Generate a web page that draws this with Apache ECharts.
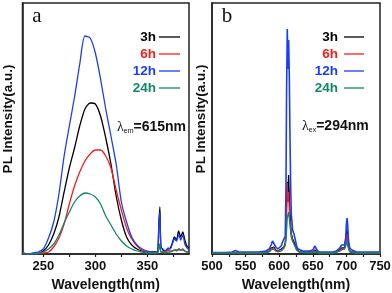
<!DOCTYPE html>
<html>
<head>
<meta charset="utf-8">
<script src="https://cdn.jsdelivr.net/npm/echarts@6/dist/echarts.min.js"></script>
<style>
html,body{margin:0;padding:0;background:#fff;}
#chart{width:392px;height:293px;}
</style>
</head>
<body>
<div id="chart"></div>
<script>
// ---------- data ----------
const legendNames = ['3h', '6h', '12h', '24h'];
const seriesColors = ['#000000', '#ff1a1a', '#1b3cff', '#11876a'];

// Panel a: excitation spectra (lambda_em = 615 nm)
const wlA = [230,235,240,245,250,255,260,265,270,275,280,285,290,295,300,305,310,315,320,325,330,335,340,345,350,355,358,360,361,362,363,365,367,370,372,374,376,378,380,381,382,384,386,388,390];
const a3h = [0,0,0,0.5,3,9,20,37,62,86,106,128,145,151,150,138,116,90,58,34,17,9,5,3,2,2,2,3,30,47,8,4,3,5,6,11,17,14,23,20,17,22,14,8,6];
const a6h = [2,0,0,0.5,1,2,7,16,30,50,68,82,93,100,104,104,98,86,64,44,26,15,8,4,2,1,1,2,6,8,2,2,2,4,3,3,4,4,5,4,4,5,3,2,2];
const a12h = [0,0,1,2,5,16,32,60,98,128,157,190,218,216,201,175,145,118,90,52,32,17,9,5,3,2,2,3,28,42,6,5,3,6,5,10,15,13,19,17,14,19,10,6,4];
const a24h = [0,0,0,0.5,2,5,10,19,31,42,52,58,61,60,57,50,38,29,20,13,8,5,3,2,1,1,1,1,6,10,2,2,1,2,2,3,4,3,4,5,4,4,3,2,2];
const ticksA = [250,275,300,325,350,375];
const labelsA = [250,300,350];

// Panel b: emission spectra (lambda_ex = 294 nm)
const wlB = [500,510,520,530,535,540,550,560,570,575,580,585,588,590,592,595,598,600,603,605,607,609,610,611,612,613,614,615,616,617,618,620,622,624,626,628,630,635,640,645,650,653,655,657,660,670,680,685,690,693,695,697,699,700,701,702,703,705,708,710,715,720,730,740,750];
const b3h = [1,1,1,1,1,1,1,1,1,1.5, 2,3,6,8,7,4,3,3,5,7, 7,11,22,50,72,62,79,58,42,30, 20,15,13,9,5,3,2,2,2,2, 2,4,3,2,1,1,1,2,4,6, 7,6,11,20,24,18,8,3,2,2, 1,1,1,1,1];
const b6h = [1,1,1,1,1,1,1,1,1,1.5, 2,3,5,7,6,3,3,3,4,6, 6,9,18,42,71,52,62,45,33,24, 17,13,11,7,4,3,2,2,2,2, 2,3,3,2,1,1,1,2,3,5, 6,5,9,17,20,15,7,3,2,2, 1,1,1,1,1];
const b12h = [1.5,1.5,1.5,2,3.5,2,2,2,2,2.5, 3,5,9,13,11,7,5,5,8,12, 11,18,60,165,225,185,214,180,120,70, 40,24,20,14,8,5,4,3,3,3, 4,8,7,3,2,2,2,3,6,9, 10,9,16,30,36,28,14,6,4,3, 2,2,2,2,2];
const b24h = [1,1,1,1,1,1,1,1,1,1, 1.5,2,4,5,5,3,2,2,3,5, 6,9,14,24,36,34,42,36,29,23, 18,13,10,7,4,3,2,1.5,1.5,1.5, 1.5,2,2,1.5,1,1,1,1.5,3,4, 5,5,8,13,15,12,6,2,1.5,1, 1,1,1,1,1];
const ticksB = [500,525,550,575,600,625,650,675,700,725,750];
const labelsB = [500,550,600,650,700,750];

// ---------- chart ----------
const chart = echarts.init(document.getElementById('chart'), null, {renderer: 'canvas'});
const pairs = (xs, ys) => xs.map((x, i) => [x, ys[i]]);
const FONT = '"Liberation Sans", Arial, sans-serif';

function xAxisFor(gridIndex, min, max, ticks, labels) {
  return {
    type: 'value', gridIndex, min, max,
    axisLine: {show: true, lineStyle: {color: '#222', width: 1.5}},
    axisTick: {show: true, inside: false, length: 3, customValues: ticks, lineStyle: {color: '#222', width: 1.2}},
    axisLabel: {show: true, customValues: labels, margin: 6, color: '#111', fontFamily: FONT, fontWeight: 'bold', fontSize: 13},
    splitLine: {show: false},
    name: 'Wavelength(nm)', nameLocation: 'middle', nameGap: 24,
    nameTextStyle: {color: '#111', fontFamily: FONT, fontWeight: 'bold', fontSize: 14}
  };
}
function yAxisFor(gridIndex) {
  return {
    type: 'value', gridIndex, min: 0, max: 251,
    axisLine: {show: true, lineStyle: {color: '#222', width: 1.5}},
    axisTick: {show: false}, axisLabel: {show: false}, splitLine: {show: false}
  };
}

const series = [];
const dataA = [a3h, a6h, a12h, a24h];
const dataB = [b3h, b6h, b12h, b24h];
legendNames.forEach((n, i) => {
  series.push({type: 'line', name: n + 'a', xAxisIndex: 0, yAxisIndex: 0, data: pairs(wlA, dataA[i]),
    showSymbol: false, symbol: 'none', smooth: 0.25, lineStyle: {color: seriesColors[i], width: 1.3}, z: 2 + i, animation: false});
  series.push({type: 'line', name: n + 'b', xAxisIndex: 1, yAxisIndex: 1, data: pairs(wlB, dataB[i]),
    showSymbol: false, symbol: 'none', smooth: false, lineStyle: {color: seriesColors[i], width: i === 2 ? 1.6 : 1.3}, z: 2 + i, animation: false});
});

const graphics = [];
function legendBlock(textRight, lineX0, lineX1, ys) {
  legendNames.forEach((n, i) => {
    graphics.push({type: 'text', x: textRight, y: ys[i], style: {text: n, fill: seriesColors[i], font: 'bold 13.5px ' + FONT, textAlign: 'right', textVerticalAlign: 'middle'}});
    graphics.push({type: 'line', shape: {x1: lineX0, y1: ys[i], x2: lineX1, y2: ys[i]}, style: {stroke: seriesColors[i], lineWidth: 1.3}});
  });
}
legendBlock(156, 159, 180, [37, 54, 71, 88]);
legendBlock(338, 344, 364, [37, 54, 71, 88]);

function annot(x, y, sub, rest) {
  graphics.push({type: 'text', x, y, style: {
    text: '{l|λ}{s|' + sub + '}{b|' + rest + '}',
    textVerticalAlign: 'middle',
    rich: {
      l: {font: '14px "Liberation Serif", serif', fill: '#111', verticalAlign: 'middle'},
      s: {font: '7px ' + FONT, fill: '#111', padding: [9, 0, 0, 0]},
      b: {font: 'bold 14px ' + FONT, fill: '#111'}
    }
  }});
}
annot(117, 127, 'em', '=615nm');
annot(302, 126, 'ex', '=294nm');

graphics.push({type: 'text', x: 37, y: 16, style: {text: 'a', font: '21px "Liberation Serif", serif', fill: '#111', textAlign: 'center', textVerticalAlign: 'middle'}});
graphics.push({type: 'text', x: 227, y: 16, style: {text: 'b', font: '21px "Liberation Serif", serif', fill: '#111', textAlign: 'center', textVerticalAlign: 'middle'}});

graphics.push({type: 'text', x: 8, y: 119, rotation: Math.PI / 2, style: {text: 'PL Intensity(a.u.)', font: 'bold 13.5px ' + FONT, fill: '#111', textAlign: 'center', textVerticalAlign: 'middle'}});
graphics.push({type: 'text', x: 201, y: 119, rotation: Math.PI / 2, style: {text: 'PL Intensity(a.u.)', font: 'bold 13.5px ' + FONT, fill: '#111', textAlign: 'center', textVerticalAlign: 'middle'}});

chart.setOption({
  animation: false,
  backgroundColor: '#ffffff',
  grid: [
    {left: 22.5, top: 3, width: 166.5, height: 251, outerBoundsMode: 'none', containLabel: false, show: true, borderColor: '#222', borderWidth: 1.5, backgroundColor: 'transparent'},
    {left: 212, top: 3, width: 168, height: 251, outerBoundsMode: 'none', containLabel: false, show: true, borderColor: '#222', borderWidth: 1.5, backgroundColor: 'transparent'}
  ],
  xAxis: [xAxisFor(0, 230, 390, ticksA, labelsA), xAxisFor(1, 500, 750, ticksB, labelsB)],
  yAxis: [yAxisFor(0), yAxisFor(1)],
  series,
  graphic: graphics
});
</script>
</body>
</html>
